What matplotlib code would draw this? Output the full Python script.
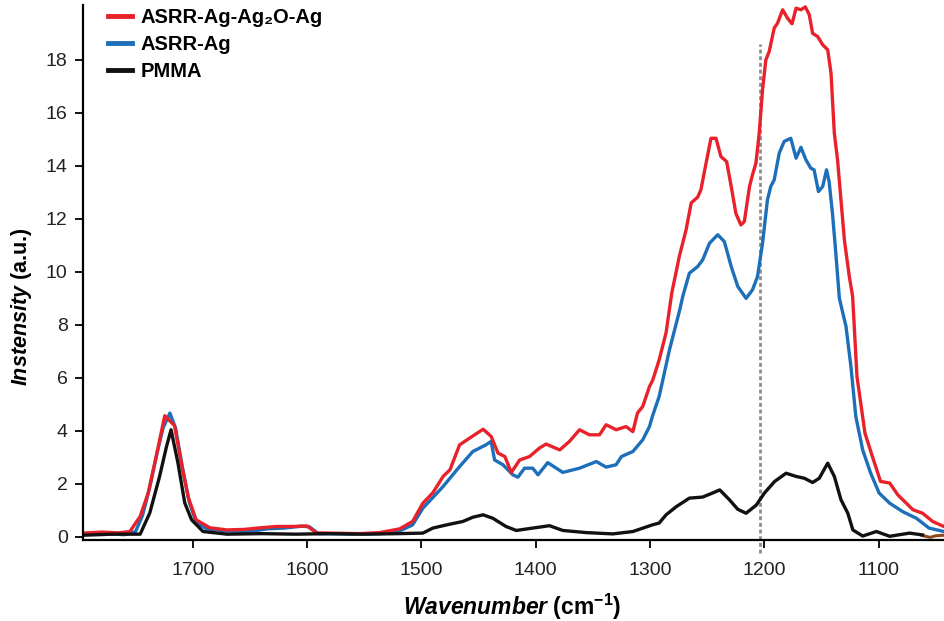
import matplotlib
matplotlib.use("Agg")
import matplotlib.pyplot as plt

# -----------------------------
# Data (wavenumber cm-1, intensity a.u.)
# -----------------------------
red_x = [1796, 1780, 1765, 1755, 1746, 1739, 1732, 1724.5, 1716, 1710, 1704, 1697, 1685, 1670,
         1655, 1641, 1627, 1612.5, 1600, 1592, 1554, 1536.5, 1519, 1507.7, 1498.7, 1490, 1481,
         1475, 1466.6, 1458, 1446, 1439, 1433, 1427, 1421.4, 1414, 1405.4, 1396.7, 1391, 1379,
         1370.5, 1361.7, 1353, 1344.2, 1338.4, 1329.7, 1321, 1315, 1311, 1306.4, 1300.5, 1297.6,
         1292, 1286, 1281, 1274.3, 1268.5, 1264, 1258.3, 1255.5, 1251, 1246.7, 1242.3, 1238,
         1233, 1229, 1224.9, 1220.5, 1217.5, 1213, 1210.4, 1207.4, 1204.5, 1201.6, 1198.7,
         1195.8, 1191.4, 1188.5, 1184, 1179.7, 1175.8, 1172.3, 1168, 1164.2, 1160.7, 1157.8,
         1153.4, 1149, 1144.6, 1141.7, 1138.8, 1136, 1133, 1130, 1125.7, 1122.8, 1119, 1112,
         1105.5, 1098.4, 1090.4, 1083.2, 1070, 1061.6, 1052.8, 1043]
red_y = [0.14, 0.18, 0.15, 0.2, 0.77, 1.65, 3.03, 4.57, 4.2, 2.8, 1.5, 0.64, 0.34, 0.26,
         0.28, 0.34, 0.39, 0.39, 0.41, 0.15, 0.12, 0.16, 0.3, 0.58, 1.27, 1.66, 2.28,
         2.53, 3.47, 3.72, 4.06, 3.79, 3.16, 3.03, 2.43, 2.9, 3.03, 3.35, 3.5, 3.28,
         3.6, 4.04, 3.85, 3.85, 4.23, 4.04, 4.16, 3.97, 4.67, 4.92, 5.67, 5.92,
         6.68, 7.7, 9.2, 10.6, 11.58, 12.6, 12.82, 13.1, 14.1, 15.04, 15.04, 14.35,
         14.16, 13.22, 12.2, 11.77, 11.9, 13.22, 13.66, 14.1, 15.23, 16.87, 18.0,
         18.31, 19.2, 19.38, 19.89, 19.57, 19.36, 19.95, 19.89, 20.0, 19.7, 19.0,
         18.88, 18.57, 18.38, 17.5, 15.23, 14.23, 12.72, 11.2, 9.82, 9.07, 6.05, 3.91,
         3.03, 2.09, 2.03, 1.58, 1.02, 0.89, 0.58, 0.39]

blue_x = [1796, 1775, 1760, 1750, 1744, 1738, 1731, 1726, 1720, 1715, 1709, 1703, 1697, 1688,
          1670, 1650, 1635, 1620, 1605, 1598, 1590, 1560, 1536, 1519, 1507.7, 1498.7, 1481,
          1466.6, 1455, 1443.6, 1439, 1436, 1428.7, 1420, 1415.6, 1409.8, 1402.6, 1398, 1389.5,
          1376.3, 1361.7, 1347, 1338.4, 1329.7, 1325, 1315, 1306.4, 1300.5, 1298, 1292, 1283,
          1274, 1271.4, 1265.6, 1258.3, 1254, 1248, 1240.8, 1235, 1229, 1223.3, 1216, 1210.4,
          1206, 1201.6, 1197.3, 1194.4, 1191.4, 1187, 1182.7, 1176.9, 1172.3, 1168, 1163.7,
          1159.4, 1156.5, 1152.7, 1149, 1145.6, 1143.4, 1140.4, 1137.5, 1134.4, 1128.6, 1124.3,
          1120, 1114, 1107, 1099.6, 1090.4, 1079, 1067, 1056, 1043]
blue_y = [0.1, 0.12, 0.08, 0.2, 0.8, 1.8, 3.2, 4.1, 4.67, 4.1, 2.6, 1.3, 0.55, 0.3,
          0.22, 0.2, 0.3, 0.33, 0.4, 0.38, 0.12, 0.1, 0.12, 0.22, 0.45, 1.08, 1.9,
          2.65, 3.22, 3.47, 3.6, 2.9, 2.72, 2.34, 2.25, 2.59, 2.59, 2.34, 2.8,
          2.43, 2.59, 2.84, 2.63, 2.72, 3.03, 3.22, 3.66, 4.16, 4.54, 5.3, 7.06,
          8.57, 9.07, 9.95, 10.2, 10.45, 11.08, 11.4, 11.14, 10.2, 9.45, 9.0, 9.32,
          9.82, 11.08, 12.72, 13.22, 13.47, 14.48, 14.92, 15.04, 14.29, 14.7, 14.23,
          13.91, 13.85, 13.03, 13.22, 13.85, 13.41, 12.2, 10.7, 9.0, 7.94, 6.43,
          4.54, 3.28, 2.4, 1.65, 1.27, 0.95, 0.7, 0.33, 0.2]

black_x = [1796, 1770, 1746, 1737.6, 1729, 1723, 1719, 1713, 1707, 1701, 1691, 1670, 1640,
           1610, 1580, 1550, 1520, 1498.7, 1490, 1478, 1463.7, 1455, 1446, 1437.5, 1426, 1417,
           1402.6, 1388, 1376.3, 1356, 1332.6, 1315, 1298, 1292, 1286, 1277, 1265.6, 1254,
           1245.5, 1239, 1230.6, 1223.3, 1216, 1207, 1200, 1191, 1181, 1172.3, 1165, 1157.8,
           1152, 1144.6, 1138.8, 1133, 1127, 1122.6, 1114, 1102, 1090.4, 1073, 1061.6]
black_y = [0.06, 0.1, 0.1, 0.9, 2.28, 3.4, 4.04, 2.8, 1.28, 0.64, 0.2, 0.1, 0.12,
           0.1, 0.12, 0.1, 0.12, 0.14, 0.33, 0.45, 0.58, 0.74, 0.83, 0.7, 0.39, 0.24,
           0.33, 0.42, 0.24, 0.16, 0.11, 0.2, 0.45, 0.52, 0.83, 1.14, 1.46, 1.5,
           1.65, 1.77, 1.4, 1.04, 0.89, 1.2, 1.65, 2.09, 2.4, 2.28, 2.21, 2.05,
           2.21, 2.78, 2.28, 1.4, 0.89, 0.26, 0.03, 0.2, 0.02, 0.14, 0.07]

brown_x = [1062, 1055, 1050, 1043]
brown_y = [0.05, -0.02, 0.04, 0.06]

labels = ["ASRR-Ag-Ag\u2082O-Ag", "ASRR-Ag", "PMMA"]
xticks = [1700, 1600, 1500, 1400, 1300, 1200, 1100]
yticks = [0, 2, 4, 6, 8, 10, 12, 14, 16, 18]
marker_wn = 1204

# -----------------------------
# Plot
# -----------------------------
plt.rcParams['font.family'] = ['Liberation Sans', 'DejaVu Sans']
plt.rcParams['mathtext.fontset'] = 'custom'
plt.rcParams['mathtext.rm'] = 'Liberation Sans:bold'
plt.rcParams['mathtext.it'] = 'Liberation Sans:italic:bold'
plt.rcParams['mathtext.bf'] = 'Liberation Sans:bold'

fig = plt.figure(figsize=(9.45, 6.21), dpi=100)
ax = fig.add_axes([83 / 945, 81 / 621, 862 / 945, 535 / 621])

ax.plot(blue_x, blue_y, color="#1c6fb8", lw=2.4, label=labels[1])
ax.plot(red_x, red_y, color="#e8212b", lw=2.4, label=labels[0])
ax.plot(brown_x, brown_y, color="#8b4a1e", lw=2.2)
ax.plot(black_x, black_y, color="#111111", lw=2.4, label=labels[2])

ax.plot([marker_wn, marker_wn], [-0.6, 18.6], color="#8c8c8c", lw=2,
        linestyle=(0, (1.4, 1)), clip_on=False, zorder=1)

ax.set_xlim(1796, 1042)
ax.set_ylim(-0.12, 20.07)
ax.set_xticks(xticks)
ax.set_yticks(yticks)
ax.tick_params(axis="both", direction="out", length=6, width=1.3,
               labelsize=14, labelcolor="#222222", pad=5)
ax.tick_params(axis="x", pad=10)

for side in ["top", "right"]:
    ax.spines[side].set_visible(False)
for side in ["left", "bottom"]:
    ax.spines[side].set_linewidth(1.6)

ax.set_xlabel(r"$\mathit{Wavenumber}$ (cm$^{-1}$)", fontsize=16.5, fontweight="bold", va="center")
ax.xaxis.set_label_coords((512 - 83) / 862, (540 - 607) / 535)
ax.set_ylabel(r"$\mathit{Instensity}$ (a.u.)", fontsize=15.5, fontweight="bold", va="center")
ax.yaxis.set_label_coords((22 - 83) / 862, (540 - 307) / 535)

h, l = ax.get_legend_handles_labels()
order = [1, 0, 2]
leg = ax.legend([h[i] for i in order], [l[i] for i in order],
                loc="upper left", bbox_to_anchor=(0.02, 1.01), frameon=False,
                prop={"weight": "bold", "size": 14.5}, handlelength=1.2,
                handletextpad=0.4, labelspacing=0.4, borderaxespad=0)
for line in leg.get_lines():
    line.set_linewidth(3.5)

fig.savefig("out.png", dpi=100)
